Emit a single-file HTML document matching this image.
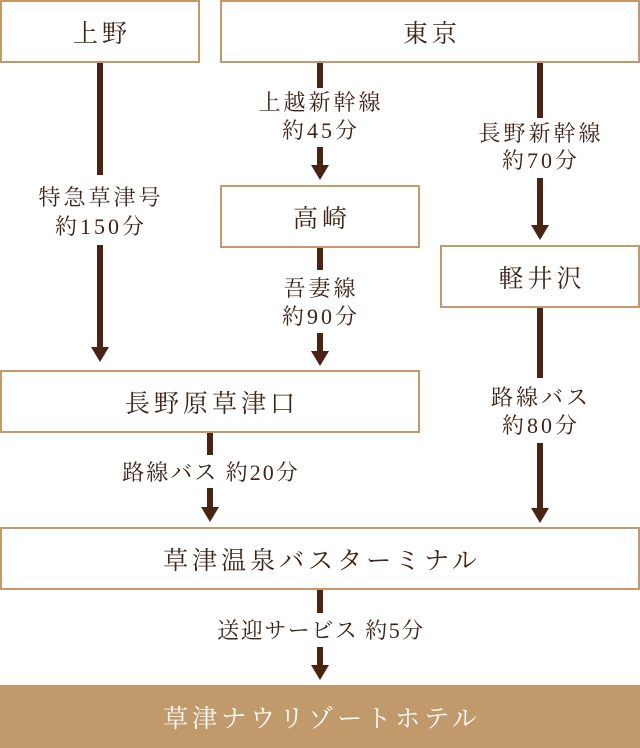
<!DOCTYPE html>
<html><head><meta charset="utf-8"><style>
html,body{margin:0;padding:0;background:#fff;}
svg{display:block;}
text{font-family:"Liberation Serif","Noto Serif CJK JP",serif;fill:#3e2418;}
</style></head><body>
<svg width="640" height="748" viewBox="0 0 640 748" xmlns="http://www.w3.org/2000/svg">
<g fill="none" stroke="#c19a6b" stroke-width="2">
<rect x="1" y="1" width="198" height="61"/>
<rect x="221" y="1" width="418" height="61"/>
<rect x="221" y="186" width="198" height="61"/>
<rect x="441" y="246" width="198" height="61"/>
<rect x="1" y="371" width="418" height="61"/>
<rect x="1" y="528" width="638" height="61"/>
</g>
<rect x="0" y="685" width="640" height="63" fill="#c19a6b"/>
<g fill="#4a2314">
<rect x="97" y="63" width="6" height="112"/><rect x="97" y="245" width="6" height="103"/><polygon points="91,347 109,347 100,362"/>
<rect x="317" y="63" width="6" height="25"/><rect x="317" y="147" width="6" height="19"/><polygon points="311,165 329,165 320,180"/>
<rect x="537" y="63" width="6" height="55"/><rect x="537" y="178" width="6" height="48"/><polygon points="531,225 549,225 540,240"/>
<rect x="317" y="248" width="6" height="22"/><rect x="317" y="333" width="6" height="19"/><polygon points="311,351 329,351 320,366"/>
<rect x="537" y="308" width="6" height="70"/><rect x="537" y="443" width="6" height="65"/><polygon points="531,508 549,508 540,523"/>
<rect x="207" y="433" width="6" height="22"/><rect x="207" y="488" width="6" height="20"/><polygon points="201,507 219,507 210,522"/>
<rect x="317" y="590" width="6" height="23"/><rect x="317" y="647" width="6" height="18"/><polygon points="311,665 329,665 320,680"/>
</g>
<g font-size="25" text-anchor="middle" letter-spacing="4">
<text x="102" y="42">上野</text>
<text x="432" y="42">東京</text>
<text x="322" y="227">高崎</text>
<text x="542" y="287">軽井沢</text>
<text x="212" y="412">長野原草津口</text>
<text x="322" y="569">草津温泉バスターミナル</text>
<text x="322" y="727" style="fill:#fff">草津ナウリゾートホテル</text>
</g>
<g font-size="22" text-anchor="middle" letter-spacing="3">
<text x="101" y="205">特急草津号</text><text x="101" y="234">約150分</text>
<text x="321" y="110">上越新幹線</text><text x="321" y="138">約45分</text>
<text x="541" y="141">長野新幹線</text><text x="541" y="168">約70分</text>
<text x="321" y="296">吾妻線</text><text x="321" y="324">約90分</text>
<text x="541" y="405">路線バス</text><text x="541" y="433">約80分</text>
<text x="211" y="480" letter-spacing="2">路線バス 約20分</text>
<text x="321" y="638" letter-spacing="1.5">送迎サービス 約5分</text>
</g>
</svg>
</body></html>
